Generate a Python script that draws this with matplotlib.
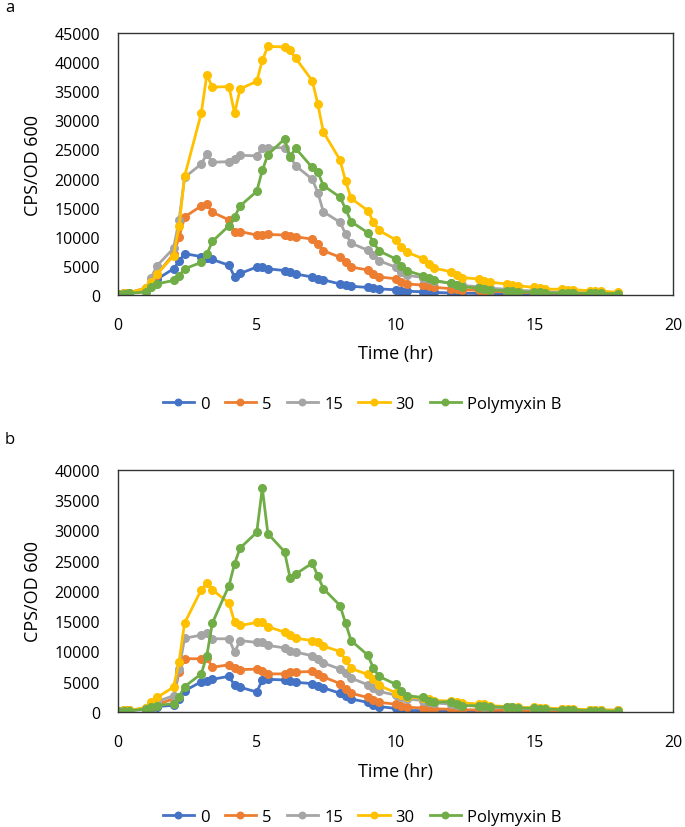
import matplotlib
matplotlib.use('Agg')
import matplotlib.pyplot as plt

plt.rcParams['font.family'] = ['Open Sans', 'DejaVu Sans']

# sampling times (hr), shared by every series
times = [0, 0.2, 0.4, 1, 1.2, 1.4, 2, 2.2, 2.4, 3, 3.2, 3.4, 4, 4.2, 4.4,
         5, 5.2, 5.4, 6, 6.2, 6.4, 7, 7.2, 7.4, 8, 8.2, 8.4, 9, 9.2, 9.4,
         10, 10.2, 10.4, 11, 11.2, 11.4, 12, 12.2, 12.4, 13, 13.2, 13.4,
         14, 14.2, 14.4, 15, 15.2, 15.4, 16, 16.2, 16.4, 17, 17.2, 17.4, 18]

labels = ['0', '5', '15', '30', 'Polymyxin B']
colors = ['#4472C4', '#ED7D31', '#A5A5A5', '#FFC000', '#70AD47']

# panel a
blue_a = [200, 300, 400, 900, 1600, 2700, 4500, 5800, 7100, 6600, 6300, 6100,
          5100, 3100, 3700, 4800, 4800, 4500, 4200, 3900, 3600, 3100, 2800, 2600,
          1900, 1650, 1500, 1300, 1200, 1050, 900, 750, 650, 550, 500, 430,
          360, 330, 300, 270, 250, 230, 210, 200, 190, 180, 170, 170,
          160, 160, 150, 150, 150, 140, 140]
orange_a = [200, 300, 400, 1000, 2000, 3500, 7000, 9900, 13400, 15300, 15700, 14200,
            12900, 10800, 10900, 10300, 10300, 10400, 10300, 10200, 10000, 9600, 8800, 7600,
            6500, 5600, 4800, 4300, 3600, 3100, 2800, 2300, 1900, 1700, 1500, 1300,
            1100, 1000, 900, 800, 700, 650, 550, 500, 450, 400, 370, 340,
            300, 280, 260, 240, 220, 210, 200]
gray_a = [200, 300, 400, 1200, 3000, 5000, 8000, 12800, 20200, 22500, 24200, 22800,
          22900, 23400, 24000, 23900, 25200, 25300, 25300, 23900, 22200, 19900, 17600, 14300,
          12500, 10500, 8900, 7700, 6900, 5900, 4800, 3900, 3400, 3000, 2700, 2400,
          2000, 1800, 1650, 1400, 1300, 1150, 1000, 900, 800, 700, 620, 560,
          500, 460, 420, 380, 350, 330, 300]
yellow_a = [200, 300, 400, 1200, 2200, 3600, 6700, 11800, 20400, 31200, 37800, 35700,
            35800, 31200, 35400, 36700, 40300, 42700, 42600, 42000, 40700, 36800, 32800, 28000,
            23200, 19600, 16600, 14500, 12600, 11100, 9500, 8200, 7400, 6200, 5300, 4600,
            4000, 3400, 3000, 2750, 2450, 2200, 1900, 1700, 1600, 1300, 1150, 1000,
            1000, 900, 900, 750, 750, 700, 450]
green_a = [200, 250, 300, 500, 1300, 1900, 2500, 3300, 4500, 5600, 7000, 9200,
           11900, 13400, 15300, 17800, 21400, 24100, 26800, 23700, 25200, 21900, 21100, 18800,
           16800, 14800, 12600, 10700, 9100, 7600, 6200, 5000, 4200, 3300, 2900, 2500,
           2000, 1700, 1400, 1200, 1000, 860, 750, 630, 570, 460, 460, 350,
           330, 300, 300, 280, 280, 260, 250]

# panel b
blue_b = [200, 250, 300, 400, 600, 900, 1100, 2100, 3500, 5000, 5200, 5400,
          5900, 4400, 4100, 3300, 5300, 5400, 5300, 5100, 4900, 4700, 4300, 4000,
          3100, 2600, 2150, 1600, 1200, 900, 600, 400, 250, 220, 200, 200,
          200, 200, 200, 200, 200, 200, 200, 200, 200, 200, 200, 200,
          200, 200, 200, 200, 200, 200, 200]
orange_b = [200, 250, 300, 500, 800, 1200, 2200, 6600, 8800, 8800, 9000, 7400,
            7800, 7200, 7000, 7100, 6700, 6300, 6300, 6600, 6600, 6700, 6300, 5800,
            4700, 3800, 3100, 2400, 2000, 1600, 1300, 1050, 800, 650, 580, 520,
            450, 400, 380, 340, 310, 290, 270, 250, 240, 230, 220, 210,
            200, 200, 200, 200, 200, 200, 200]
gray_b = [200, 250, 300, 600, 1100, 1700, 2700, 7100, 12200, 12700, 13100, 12100,
          12100, 9900, 11800, 11500, 11500, 11000, 10600, 10100, 9900, 9300, 8800, 8100,
          7100, 6400, 5600, 4500, 3900, 3400, 2800, 2400, 2150, 1900, 1700, 1500,
          1300, 1200, 1100, 950, 880, 800, 700, 650, 600, 550, 500, 470,
          420, 400, 380, 350, 330, 320, 300]
yellow_b = [200, 250, 300, 700, 1600, 2400, 4100, 8300, 14700, 20200, 21300, 20200,
            18000, 14900, 14300, 14800, 14900, 14100, 13200, 12700, 12200, 11800, 11600, 10900,
            10000, 8600, 7200, 6200, 5400, 4400, 3200, 2800, 2500, 2300, 2100, 1900,
            1800, 1700, 1550, 1300, 1250, 1050, 900, 800, 750, 750, 700, 650,
            550, 500, 480, 400, 380, 350, 300]
green_b = [200, 200, 200, 500, 770, 1050, 1400, 2500, 4200, 6300, 9300, 14700,
           20900, 24500, 27100, 29700, 37000, 29500, 26500, 22200, 22800, 24600, 22500, 20400,
           17600, 14700, 11800, 9400, 7300, 5900, 4600, 3500, 2700, 2400, 1900, 1600,
           1700, 1300, 1050, 1050, 1000, 880, 770, 750, 660, 610, 500, 500,
           380, 380, 380, 220, 220, 220, 110]

panels = [
    ('a', [blue_a, orange_a, gray_a, yellow_a, green_a], 45000),
    ('b', [blue_b, orange_b, gray_b, yellow_b, green_b], 40000),
]

W, H = 685, 828
fig = plt.figure(figsize=(W / 100, H / 100), dpi=100)

# pixel boxes: (left, top, right, bottom)
boxes = [(118, 34, 673, 296), (118, 471, 673, 713)]
xlabel_top = [345, 763]
legend_y = [405, 818]
letter_y = [8, 440]

for (tag, series, ymax), (l, t, r, b), xt, ly, ty in zip(panels, boxes, xlabel_top, legend_y, letter_y):
    ax = fig.add_axes([l / W, 1 - b / H, (r - l) / W, (b - t) / H])
    for vals, lab, col in zip(series, labels, colors):
        ax.plot(times, vals, color=col, lw=2.0, marker='o', ms=5.5, label=lab)
    ax.set_xlim(0, 20)
    ax.set_ylim(0, ymax)
    ax.set_xticks([0, 5, 10, 15, 20])
    ax.set_yticks(range(0, ymax + 1, 5000))
    ax.tick_params(length=0, labelsize=11.5, pad=13)
    ax.tick_params(axis='x', pad=16)
    for s in ax.spines.values():
        s.set_color('#333333')
        s.set_linewidth(1.0)
    ax.set_xlabel('Time (hr)', fontsize=13)
    ax.xaxis.set_label_coords(0.5, (b - xt) / (b - t))
    ax.set_ylabel('CPS/OD 600', fontsize=13)
    ax.yaxis.set_label_coords((42 - l) / (r - l), 0.5)
    fig.text(5 / W, 1 - ty / H, tag, fontsize=12, va='center', ha='left')
    ax.legend(loc='center', bbox_to_anchor=(362 / W, 1 - ly / H), bbox_transform=fig.transFigure,
              ncol=5, frameon=False, fontsize=12, handlelength=1.9, columnspacing=0.9,
              handletextpad=0.35, markerscale=0.85, borderpad=0.2)

fig.savefig('out.png', dpi=100)
